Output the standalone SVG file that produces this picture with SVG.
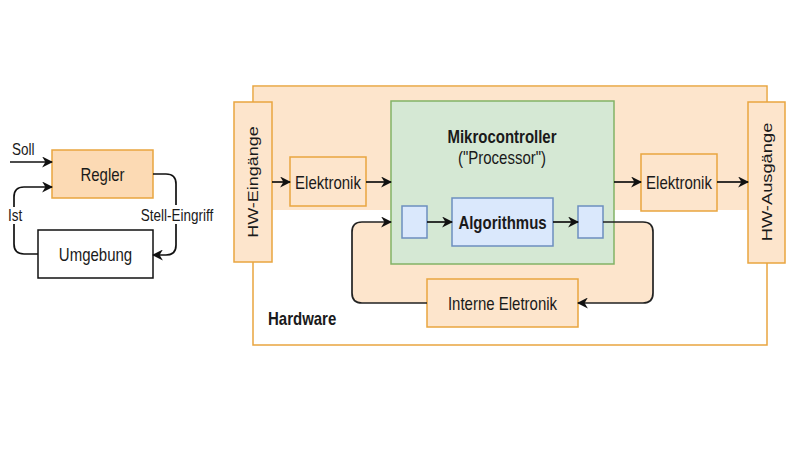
<svg xmlns="http://www.w3.org/2000/svg" width="799" height="450" viewBox="0 0 799 450">
<style>
text{font-family:"Liberation Sans",Arial,sans-serif;fill:#1a1a1a}
.t{font-size:15px;text-anchor:middle}
.s{font-size:13.5px}
.b{font-weight:bold}
.or{fill:#fde5cc;stroke:#e9a53f;stroke-width:1.5}
.gr{fill:#d5e8d4;stroke:#82b366;stroke-width:1.5}
.bl{fill:#dae8fc;stroke:#6c8ebf;stroke-width:1.5}
.c{fill:none;stroke:#111;stroke-width:1.7}
.lp{fill:none;stroke:#222;stroke-width:1.7}
</style>
<defs>
<marker id="a" viewBox="0 0 10 10" refX="9" refY="5" markerWidth="11" markerHeight="11" markerUnits="userSpaceOnUse" orient="auto">
<path d="M0,0 L10,5 L0,10 L3,5 z" fill="#111"/>
</marker>
</defs>
<rect width="799" height="450" fill="#fff"/>

<g id="hardware">
<rect x="253" y="86" width="514" height="259" fill="#fff" stroke="#e9a53f" stroke-width="1.5"/>
<rect x="254" y="87" width="512" height="123" fill="#fde5cc"/>
<rect x="352" y="222" width="301" height="81" rx="10" fill="#fde5cc"/>
<text class="b" font-size="15" transform="translate(268 325) scale(1 1.2)">Hardware</text>
</g>

<g id="regler">
<rect x="52" y="150" width="101" height="48" fill="#fcdab4" stroke="#e9a53f" stroke-width="1.5"/>
<text class="t" transform="translate(102.5 181) scale(1 1.2)">Regler</text>
</g>
<g id="umgebung">
<rect x="38" y="230" width="115" height="48" fill="#fff" stroke="#111" stroke-width="1.5"/>
<text class="t" transform="translate(95.5 261) scale(1 1.2)">Umgebung</text>
</g>

<g id="hw-eingaenge">
<rect x="234" y="102" width="38" height="160" class="or"/>
<text class="t" transform="translate(253 182) rotate(-90) scale(1.2 1)" y="5.4">HW-Eingänge</text>
</g>
<g id="elektronik-in">
<rect x="290" y="157" width="76" height="49" class="or"/>
<text class="t" transform="translate(328 188.5) scale(1 1.2)">Elektronik</text>
</g>
<g id="mikrocontroller">
<rect x="391" y="101" width="223" height="163" class="gr"/>
<text class="t b" transform="translate(502 142.5) scale(1 1.2)">Mikrocontroller</text>
<text class="t" transform="translate(502 164) scale(1 1.2)">("Processor")</text>
</g>
<g id="port-in"><rect x="402" y="206" width="25" height="32" class="bl"/></g>
<g id="algorithmus">
<rect x="452" y="198" width="101" height="48" class="bl"/>
<text class="t b" transform="translate(502.5 229) scale(1 1.2)">Algorithmus</text>
</g>
<g id="port-out"><rect x="578" y="206" width="25" height="32" class="bl"/></g>
<g id="interne-elektronik">
<rect x="427" y="279" width="151" height="48" class="or"/>
<text class="t" transform="translate(502.5 309.5) scale(1 1.2)">Interne Eletronik</text>
</g>
<g id="elektronik-out">
<rect x="641" y="154" width="76" height="57" class="or"/>
<text class="t" transform="translate(679 188.5) scale(1 1.2)">Elektronik</text>
</g>
<g id="hw-ausgaenge">
<rect x="748" y="102" width="37" height="161" class="or"/>
<text class="t" transform="translate(766.5 182) rotate(-90) scale(1.22 1)" y="5.4">HW-Ausgänge</text>
</g>

<g id="connectors">
<path class="c" d="M10,162 H52" marker-end="url(#a)"/>
<path class="c" d="M38,254 H24 Q14,254 14,244 V197 Q14,187 24,187 H52" marker-end="url(#a)"/>
<path class="c" d="M153,174 H166 Q176,174 176,184 V245 Q176,255 166,255 H153" marker-end="url(#a)"/>
<path class="c" d="M272,182 H290" marker-end="url(#a)"/>
<path class="c" d="M366,182 H391" marker-end="url(#a)"/>
<path class="c" d="M427,222 H452" marker-end="url(#a)"/>
<path class="c" d="M553,222 H578" marker-end="url(#a)"/>
<path class="c" d="M614,182 H641" marker-end="url(#a)"/>
<path class="c" d="M717,182 H748" marker-end="url(#a)"/>
<path class="lp" d="M603,222 H643 Q653,222 653,232 V293 Q653,303 643,303 H578" marker-end="url(#a)"/>
<path class="lp" d="M427,303 H362 Q352,303 352,293 V232 Q352,222 362,222 H391" marker-end="url(#a)"/>
<rect x="5" y="207" width="20" height="17" fill="#fff"/>
<rect x="139" y="205" width="76" height="19" fill="#fff"/>
<text class="s" transform="translate(12 155) scale(1 1.2)">Soll</text>
<text class="s" transform="translate(8 221) scale(1 1.2)">Ist</text>
<text class="s" text-anchor="middle" transform="translate(177 220.5) scale(1 1.2)">Stell-Eingriff</text>
</g>
</svg>
